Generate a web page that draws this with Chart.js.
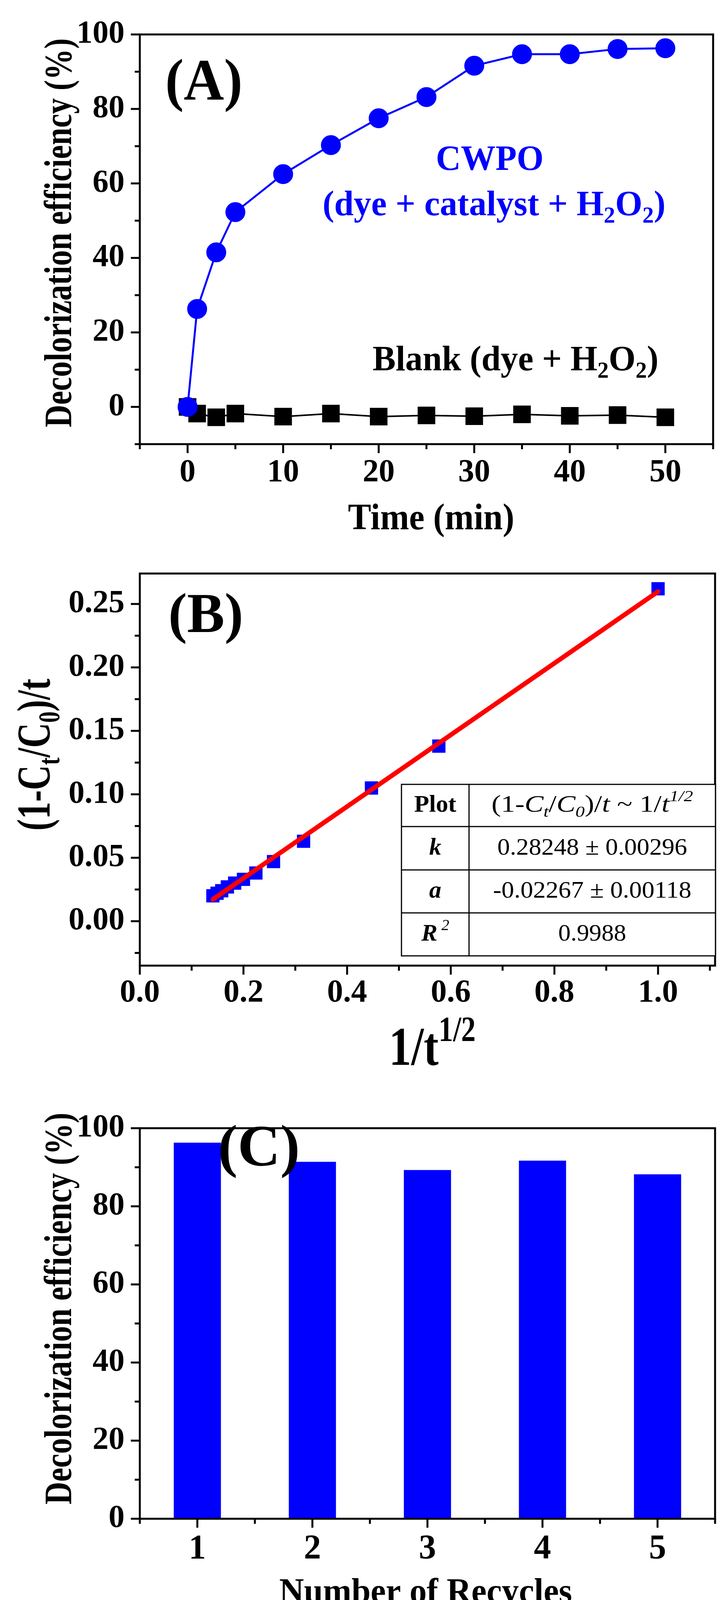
<!DOCTYPE html>
<html><head><meta charset="utf-8">
<script src="https://cdn.jsdelivr.net/npm/chart.js@4"></script>
<style>
html,body{margin:0;padding:0;background:#fff;width:1859px;height:4146px;overflow:hidden;position:relative}
canvas{position:absolute;left:0}
</style></head><body>
<canvas id="cA" width="1859" height="1380" style="top:0px"></canvas>
<canvas id="cB" width="1859" height="1420" style="top:1380px"></canvas>
<canvas id="cC" width="1859" height="1346" style="top:2800px"></canvas>
<script>
// ---------- Data ----------
const timeMin = [0,1,3,5,10,15,20,25,30,35,40,45,50];
const cwpoEff = [0,26.3,41.5,52.3,62.5,70.3,77.5,83.2,91.6,94.7,94.7,96.1,96.3];
const blankEff = [0,-1.8,-2.8,-1.8,-2.6,-1.8,-2.6,-2.3,-2.5,-2.0,-2.4,-2.2,-2.8];

const invSqrtT = [1.0,0.577,0.447,0.316,0.258,0.224,0.200,0.183,0.169,0.158,0.149,0.141];
const kinY = [0.262,0.138,0.105,0.063,0.047,0.038,0.033,0.030,0.027,0.024,0.022,0.020];
const fitX = [0.141,1.0];
const fitY = [0.0172,0.2598];

const recycles = ['1','2','3','4','5'];
const recycleEff = [96.3,91.4,89.3,91.7,88.2];

const tableRows = [
  ['Plot','(1-Ct/C0)/t ~ 1/t^1/2'],
  ['k','0.28248 ± 0.00296'],
  ['a','-0.02267 ± 0.00118'],
  ['R2','0.9988']
];

const FONT = '"Liberation Serif","Times New Roman",serif';

function drawRich(ctx, segs, cx, cy, size, target, rot, color){
  ctx.save();
  ctx.fillStyle = color || '#000';
  ctx.textBaseline = 'middle';
  ctx.textAlign = 'left';
  const parts = segs.map(s=>{
    const sz = s.s ? size*0.65 : size;
    const f = (s.st || 'bold') + ' ' + sz + 'px ' + FONT;
    ctx.font = f;
    return {t:s.t, f, w:ctx.measureText(s.t).width, dy: s.s==='sub'? size*0.3 : (s.s==='sup'? -size*0.35 : 0)};
  });
  const w = parts.reduce((a,p)=>a+p.w,0);
  const sc = target ? target/w : 1;
  ctx.translate(cx,cy);
  ctx.rotate(rot||0);
  ctx.scale(sc,1);
  let x = -w/2;
  for(const p of parts){ ctx.font=p.f; ctx.fillText(p.t,x,p.dy); x+=p.w; }
  ctx.restore();
}

function makeFrame(offsetY, xMajor, xMinor, yMajor, yMinor, texts){
  return {
    id:'frame'+offsetY,
    afterDraw(chart){
      const ctx = chart.ctx, a = chart.chartArea, xs = chart.scales.x, ys = chart.scales.y;
      ctx.save();
      ctx.strokeStyle='#000'; ctx.lineWidth=5;
      ctx.strokeRect(a.left,a.top,a.right-a.left,a.bottom-a.top);
      const tick=(x1,y1,x2,y2)=>{ctx.beginPath();ctx.moveTo(x1,y1);ctx.lineTo(x2,y2);ctx.stroke();};
      xMajor.forEach(v=>{const p=xs.getPixelForValue(v); tick(p,a.bottom,p,a.bottom+23);});
      xMinor.forEach(v=>{const p=xs.getPixelForValue(v); tick(p,a.bottom,p,a.bottom+13);});
      yMajor.forEach(v=>{const p=ys.getPixelForValue(v); tick(a.left,p,a.left-23,p);});
      yMinor.forEach(v=>{const p=ys.getPixelForValue(v); tick(a.left,p,a.left-13,p);});
      ctx.restore();
      texts(ctx, offsetY, chart);
    }
  };
}

function axisBase(min,max,majors,fmt,pad){
  return {
    type:'linear', min, max,
    grid:{display:false, drawTicks:false},
    border:{display:false},
    afterBuildTicks(s){ s.ticks = majors.map(v=>({value:v})); },
    ticks:{color:'#000', font:{family:FONT,size:82,weight:'bold'}, padding:pad,
      callback:(v)=>fmt(v), autoSkip:false, maxRotation:0}
  };
}

Chart.defaults.animation=false;

// ---------- Panel A ----------
const aXMaj=[0,10,20,30,40,50], aXMin=[-5,5,15,25,35,45,55];
const aYMaj=[0,20,40,60,80,100], aYMin=[-10,10,30,50,70,90];
new Chart(document.getElementById('cA'),{
  type:'line',
  data:{datasets:[
    {data:timeMin.map((t,i)=>({x:t,y:cwpoEff[i]})), borderColor:'#0000ff', backgroundColor:'#0000ff',
     borderWidth:5, pointStyle:'circle', pointRadius:23, clip:false},
    {data:timeMin.map((t,i)=>({x:t,y:blankEff[i]})), borderColor:'#000', backgroundColor:'#000',
     borderWidth:4, pointStyle:'rect', pointRadius:29, clip:false}
  ]},
  options:{responsive:false, devicePixelRatio:1,
    layout:{padding:{top:58,right:28,left:0,bottom:0}},
    plugins:{legend:{display:false},tooltip:{enabled:false}},
    elements:{line:{tension:0}},
    scales:{
      x:Object.assign(axisBase(-5,55,aXMaj,v=>String(v),25),{afterFit(s){s.height=243;}}),
      y:Object.assign(axisBase(-10,100,aYMaj,v=>String(v),39),{afterFit(s){s.width=358;}})
    }
  },
  plugins:[makeFrame(0,aXMaj,aXMin,aYMaj,aYMin,(ctx,o)=>{
    drawRich(ctx,[{t:'Decolorization efficiency (%)'}],156,596-o,100,996,-Math.PI/2);
    drawRich(ctx,[{t:'Time (min)'}],1104,1330-o,95,426,0);
    drawRich(ctx,[{t:'(A)'}],522,216-o,150,198,0);
    drawRich(ctx,[{t:'CWPO'}],1254,411-o,92,276,0,'#0000ff');
    drawRich(ctx,[{t:'(dye + catalyst + H'},{t:'2',s:'sub'},{t:'O'},{t:'2',s:'sub'},{t:')'}],1265,527-o,92,878,0,'#0000ff');
    drawRich(ctx,[{t:'Blank (dye + H'},{t:'2',s:'sub'},{t:'O'},{t:'2',s:'sub'},{t:')'}],1320,924-o,92,732,0,'#000');
  })]
});

// ---------- Panel B ----------
const bXMaj=[0,0.2,0.4,0.6,0.8,1.0], bXMin=[0.1,0.3,0.5,0.7,0.9,1.1];
const bYMaj=[0,0.05,0.10,0.15,0.20,0.25], bYMin=[-0.025,0.025,0.075,0.125,0.175,0.225];
new Chart(document.getElementById('cB'),{
  type:'scatter',
  data:{datasets:[
    {type:'line', data:fitX.map((x,i)=>({x,y:fitY[i]})), borderColor:'#ff0000', borderWidth:12,
     borderCapStyle:'round', pointRadius:0, showLine:true, fill:false},
    {data:invSqrtT.map((x,i)=>({x,y:kinY[i]})), backgroundColor:'#0000ff', borderColor:'#0000ff',
     pointStyle:'rect', pointRadius:24, borderWidth:0, clip:false}
  ]},
  options:{responsive:false, devicePixelRatio:1,
    layout:{padding:{top:11,right:28,left:0,bottom:0}},
    plugins:{legend:{display:false},tooltip:{enabled:false}},
    scales:{
      x:Object.assign(axisBase(0,1.11,bXMaj,v=>v.toFixed(1),22),{afterFit(s){s.height=328;}}),
      y:Object.assign(axisBase(-0.035,0.274,bYMaj,v=>v.toFixed(2),39),{afterFit(s){s.width=358;}})
    }
  },
  plugins:[makeFrame(1380,bXMaj,bXMin,bYMaj,bYMin,(ctx,o)=>{
    drawRich(ctx,[{t:'(1-C'},{t:'t',s:'sub'},{t:'/C'},{t:'0',s:'sub'},{t:')/t'}],96,1932-o,120,389,-Math.PI/2);
    drawRich(ctx,[{t:'1/t'},{t:'1/2',s:'sup'}],1107,2690-o,140,222,0);
    drawRich(ctx,[{t:'(B)'}],527,1581-o,145,192,0);
    const L=1028,R=1832,M=1201, rows=[2008,2116,2227,2337,2447];
    ctx.save(); ctx.strokeStyle='#000'; ctx.lineWidth=3; ctx.fillStyle='#fff';
    ctx.fillRect(L,rows[0]-o,R-L,rows[4]-rows[0]);
    ctx.strokeRect(L,rows[0]-o,R-L,rows[4]-rows[0]);
    for(let i=1;i<4;i++){ctx.beginPath();ctx.moveTo(L,rows[i]-o);ctx.lineTo(R,rows[i]-o);ctx.stroke();}
    ctx.beginPath();ctx.moveTo(M,rows[0]-o);ctx.lineTo(M,rows[4]-o);ctx.stroke();
    ctx.restore();
    const cy=i=>(rows[i]+rows[i+1])/2-o, c1=(L+M)/2, c2=(M+R)/2;
    drawRich(ctx,[{t:tableRows[0][0]}],c1,cy(0),62,108,0);
    drawRich(ctx,[{t:'(1-',st:'normal'},{t:'C',st:'italic'},{t:'t',s:'sub',st:'italic'},{t:'/',st:'normal'},{t:'C',st:'italic'},{t:'0',s:'sub',st:'italic'},{t:')/',st:'normal'},{t:'t',st:'italic'},{t:' ~ 1/',st:'normal'},{t:'t',st:'italic'},{t:'1/2',s:'sup',st:'italic'}],c2,cy(0),62,516,0);
    drawRich(ctx,[{t:tableRows[1][0],st:'bold italic'}],c1,cy(1),62,null,0);
    drawRich(ctx,[{t:tableRows[1][1],st:'normal'}],c2,cy(1),62,486,0);
    drawRich(ctx,[{t:tableRows[2][0],st:'bold italic'}],c1,cy(2),62,null,0);
    drawRich(ctx,[{t:tableRows[2][1],st:'normal'}],c2,cy(2),62,508,0);
    drawRich(ctx,[{t:'R',st:'bold italic'},{t:' 2',s:'sup',st:'italic'}],c1,cy(3),62,null,0);
    drawRich(ctx,[{t:tableRows[3][1],st:'normal'}],c2,cy(3),62,174,0);
  })]
});

// ---------- Panel C ----------
const cXMaj=[0,1,2,3,4], cXMin=[-0.5,0.5,1.5,2.5,3.5,4.5];
const cYMaj=[0,20,40,60,80,100], cYMin=[10,30,50,70,90];
new Chart(document.getElementById('cC'),{
  type:'bar',
  data:{labels:recycles, datasets:[{data:recycleEff, backgroundColor:'#0000ff', borderWidth:0,
    barPercentage:0.41, categoryPercentage:1}]},
  options:{responsive:false, devicePixelRatio:1,
    layout:{padding:{top:8,right:28,left:0,bottom:0}},
    plugins:{legend:{display:false},tooltip:{enabled:false}},
    scales:{
      x:{type:'category', offset:true, grid:{display:false,drawTicks:false}, border:{display:false},
        ticks:{color:'#000',font:{family:FONT,size:88,weight:'bold'},padding:25},
        afterFit(s){s.height=258;}},
      y:Object.assign(axisBase(0,100,cYMaj,v=>String(v),39),{afterFit(s){s.width=358;}})
    }
  },
  plugins:[makeFrame(2800,cXMaj,cXMin,cYMaj,cYMin,(ctx,o)=>{
    drawRich(ctx,[{t:'Decolorization efficiency (%)'}],156,3350-o,100,1003,-Math.PI/2);
    drawRich(ctx,[{t:'Number of Recycles'}],1090,4079-o,92,750,0);
    drawRich(ctx,[{t:'(C)'}],663,2945-o,150,210,0);
  })]
});
</script>
</body></html>
